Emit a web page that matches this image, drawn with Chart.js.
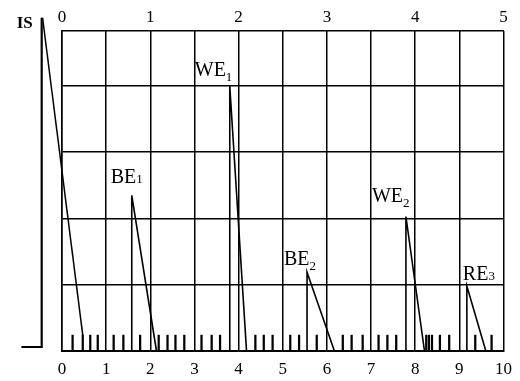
<!DOCTYPE html>
<html>
<head>
<meta charset="utf-8">
<script src="https://cdn.jsdelivr.net/npm/chart.js@4.4.0/dist/chart.umd.min.js"></script>
<style>
  html, body { margin: 0; padding: 0; background: #fff; }
</style>
</head>
<body>
<canvas id="peakChart" width="520" height="381"></canvas>
<script>
// scale marks
var bottomTicks = [0, 1, 2, 3, 4, 5, 6, 7, 8, 9, 10];
var topTicks = [0, 1, 2, 3, 4, 5];
var gridRows = [0, 1, 2, 3, 4];

// peaks: vertical rise at peakX up to peakTop, then decay down to peakEnd
var peakNames = ['BE', 'WE', 'BE', 'WE', 'RE'];
var peakSubs = ['1', '1', '2', '2', '3'];
var peakX = [1.58, 3.8, 5.55, 7.79, 9.17];
var peakTop = [2.35, 4.0, 1.19, 2.03, 0.98];
var peakEnd = [2.14, 4.18, 6.17, 8.21, 9.6];

// IS pulse left of the grid
var isX = -0.46, isTop = 5.03;
var isFootX = -0.92, isFootY = 0.06;
var isEndX = 0.47, isEndY = 0.24;

// short marks along the base line
var markX = [0.24, 0.47, 0.64, 0.81, 1.17, 1.39, 1.77, 2.19, 2.39, 2.57, 2.77,
             3.16, 3.39, 3.58, 4.38, 4.57, 4.77, 5.17, 5.37, 5.77, 6.36, 6.56,
             6.81, 7.17, 7.37, 7.57, 8.25, 8.31, 8.38, 8.56, 8.77, 9.36, 9.73];
var markTop = 0.24;

// label placement relative to each peak top (px) - style only
var labelOffsets = [[-21, -12], [-35, -10], [-23, -7], [-34, -15], [-4, -6]];
var subDrop = [0, 5, 5, 5, 0];

var serif = 'Liberation Serif';

var datasets = [];
datasets.push({
    type: 'bar',
    data: markX.map(function(x) { return { x: x, y: [0, markTop] }; }),
    backgroundColor: '#000',
    barThickness: 1.6,
    clip: false
});
// drawn top-down so the points are not treated as sorted (keeps the foot visible)
datasets.push({
    data: [{ x: isX, y: isTop }, { x: isX, y: isFootY }, { x: isFootX, y: isFootY }],
    showLine: true, borderColor: '#000', borderWidth: 2.2, pointRadius: 0, clip: false
});
datasets.push({
    data: [{ x: isX + 0.02, y: isTop }, { x: isEndX, y: isEndY }],
    showLine: true, borderColor: '#000', borderWidth: 1.5, pointRadius: 0, clip: false
});
peakX.forEach(function(x, i) {
    datasets.push({
        data: [{ x: x, y: 0 }, { x: x, y: peakTop[i] }, { x: peakEnd[i], y: 0 }],
        showLine: true, borderColor: '#000', borderWidth: 1.6, pointRadius: 0, clip: false
    });
});

var peakLabels = {
    id: 'peakLabels',
    afterDatasetsDraw: function(chart) {
        var c = chart.ctx, xs = chart.scales.x, ys = chart.scales.y;
        c.save();
        c.fillStyle = '#000';
        c.textBaseline = 'alphabetic';
        c.textAlign = 'left';
        peakNames.forEach(function(name, i) {
            var px = xs.getPixelForValue(peakX[i]) + labelOffsets[i][0];
            var py = ys.getPixelForValue(peakTop[i]) + labelOffsets[i][1];
            c.font = '20px "' + serif + '"';
            c.fillText(name, px, py);
            var w = c.measureText(name).width;
            c.font = '13px "' + serif + '"';
            c.fillText(peakSubs[i], px + w, py + subDrop[i]);
        });
        // IS label
        c.font = 'bold 17px "' + serif + '"';
        c.fillText('IS', xs.getPixelForValue(isX) - 25, ys.getPixelForValue(isTop) + 10);
        c.restore();
    }
};

var ctx = document.getElementById('peakChart').getContext('2d');
var peakChart = new Chart(ctx, {
    type: 'scatter',
    data: { datasets: datasets },
    plugins: [peakLabels],
    options: {
        responsive: false,
        animation: false,
        events: [],
        layout: { padding: { right: 15 } },
        plugins: { legend: { display: false }, tooltip: { enabled: false } },
        scales: {
            x: {
                type: 'linear', position: 'bottom', min: 0, max: 10, offset: false,
                afterBuildTicks: function(s) { s.ticks = bottomTicks.map(function(v) { return { value: v }; }); },
                afterFit: function(s) { s.height = 30; },
                ticks: { color: '#000', font: { family: serif, size: 17 }, padding: 8, maxRotation: 0, autoSkip: false },
                grid: { color: '#000', lineWidth: 1.5, drawTicks: false, offset: false },
                border: { color: '#000', width: 2 }
            },
            x2: {
                type: 'linear', position: 'top', min: 0, max: 5, offset: false,
                afterBuildTicks: function(s) { s.ticks = topTicks.map(function(v) { return { value: v }; }); },
                afterFit: function(s) { s.height = 31; },
                ticks: { color: '#000', font: { family: serif, size: 17 }, padding: 3, maxRotation: 0, autoSkip: false },
                grid: { display: false, drawTicks: false, offset: false },
                border: { color: '#000', width: 1.5 }
            },
            y: {
                min: 0, max: 4.83,
                afterBuildTicks: function(s) { s.ticks = gridRows.map(function(v) { return { value: v }; }); },
                afterFit: function(s) { s.width = 62; },
                ticks: { display: false },
                grid: { color: '#000', lineWidth: 1.5, drawTicks: false },
                border: { color: '#000', width: 1.5 }
            }
        }
    }
});
</script>
</body>
</html>
